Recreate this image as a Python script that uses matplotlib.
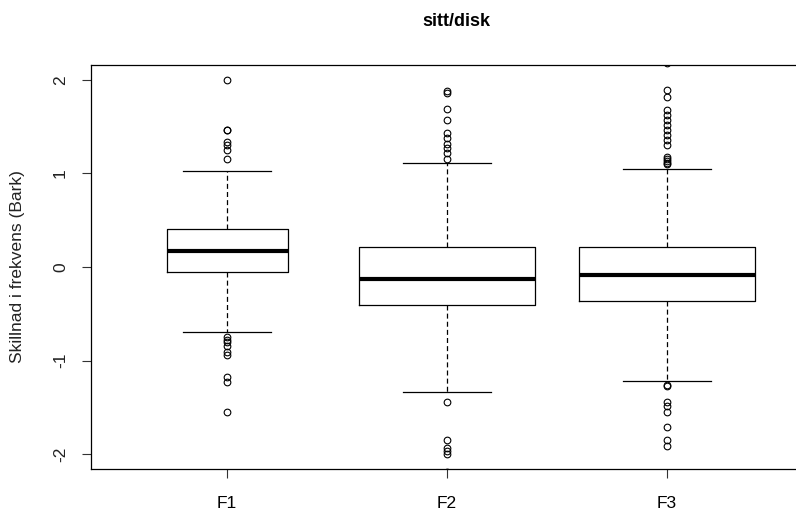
import matplotlib
matplotlib.use("Agg")
import matplotlib.pyplot as plt

# Group names and five-number summaries (lower whisker, Q1, median, Q3, upper whisker)
groups = ["F1", "F2", "F3"]
whisker_low = [-0.70, -1.34, -1.22]
quartile_1 = [-0.05, -0.41, -0.36]
medians = [0.175, -0.13, -0.085]
quartile_3 = [0.41, 0.21, 0.21]
whisker_high = [1.03, 1.11, 1.05]

# Outlying observations per group
outliers_f1 = [2.00, 1.47, 1.46, 1.34, 1.30, 1.25, 1.16,
               -0.75, -0.78, -0.80, -0.85, -0.91, -0.94, -1.18, -1.23, -1.55]
outliers_f2 = [1.88, 1.86, 1.69, 1.57, 1.43, 1.38, 1.32, 1.27, 1.22, 1.16,
               -1.44, -1.85, -1.94, -1.97, -2.00, -2.19]
outliers_f3 = [2.18, 1.89, 1.82, 1.68, 1.63, 1.57, 1.52, 1.47, 1.41, 1.36, 1.30,
               1.18, 1.15, 1.13, 1.11, 1.10,
               -1.26, -1.27, -1.44, -1.49, -1.55, -1.71, -1.85, -1.91]
outliers = [outliers_f1, outliers_f2, outliers_f3]

y_ticks = [-2, -1, 0, 1, 2]

plt.rcParams["font.family"] = ["Liberation Sans", "DejaVu Sans"]

W, H = 796, 508
fig = plt.figure(figsize=(W / 100, H / 100), dpi=100)

# plot region in pixels: left 91, right ~803 (beyond the canvas), top 65, bottom 469
left_px, right_px, top_px, bot_px = 91, 803, 65, 469
ax = fig.add_axes([left_px / W, 1 - bot_px / H,
                   (right_px - left_px) / W, (bot_px - top_px) / H])

stats = []
for i, name in enumerate(groups):
    stats.append(dict(label=name, whislo=whisker_low[i], q1=quartile_1[i],
                      med=medians[i], q3=quartile_3[i], whishi=whisker_high[i],
                      fliers=outliers[i]))

ax.bxp(stats, positions=[1, 2, 3], widths=[0.55, 0.8, 0.8], capwidths=[0.4, 0.4, 0.4],
       showfliers=True,
       boxprops=dict(color="black", linewidth=0.9),
       medianprops=dict(color="black", linewidth=3.0, solid_capstyle="butt"),
       whiskerprops=dict(color="black", linewidth=0.9, linestyle=(0, (4, 2.5))),
       capprops=dict(color="black", linewidth=0.9),
       flierprops=dict(marker="o", markerfacecolor="none", markeredgecolor="black",
                       markersize=4.8, markeredgewidth=0.8, linestyle="none"))

ax.set_xlim(0.38, 3.62)
ax.set_ylim(-2.16, 2.16)
ax.set_xticks([1, 2, 3])
ax.set_xticklabels(groups, fontsize=12.5)
ax.set_yticks(y_ticks)
ax.set_yticklabels([str(v) for v in y_ticks], fontsize=12.5, rotation=90, va="center")
ax.tick_params(axis="both", direction="out", length=6.5, width=0.8, color="#333333")
ax.tick_params(axis="y", pad=10, labelcolor="#222222")
ax.tick_params(axis="x", pad=13)
for s in ax.spines.values():
    s.set_linewidth(0.9)
    s.set_color("black")

ax.set_ylabel("Skillnad i frekvens (Bark)", fontsize=12.5, color="#222222", labelpad=20)

fig.text(456 / W, 1 - 22 / H, "sitt/disk", ha="center", va="center",
         fontsize=13, fontweight="bold")

fig.savefig("out.png", dpi=100)
